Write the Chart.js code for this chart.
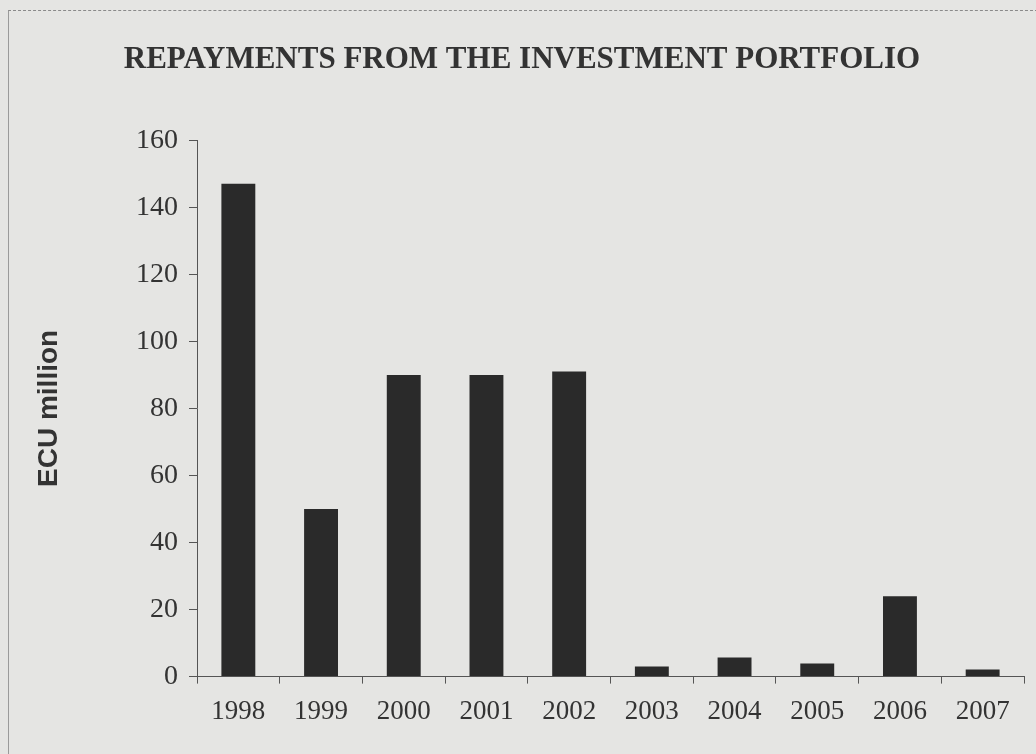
<!DOCTYPE html>
<html>
<head>
<meta charset="utf-8">
<script src="https://cdn.jsdelivr.net/npm/chart.js@4"></script>
<style>
  html, body { margin: 0; padding: 0; background: #e5e5e3; }
  #wrap { position: relative; width: 1036px; height: 754px; }
  #frame {
    position: absolute; left: 8px; top: 10px; right: -2px; bottom: -2px;
    border-top: 1px dashed #8a8a8a; border-left: 1px solid #9a9a9a;
    pointer-events: none;
  }
</style>
</head>
<body>
<div id="wrap">
  <canvas id="repaymentsChart" width="1036" height="754"></canvas>
  <div id="frame"></div>
</div>
<script>
const years = ['1998', '1999', '2000', '2001', '2002', '2003', '2004', '2005', '2006', '2007'];
const repayments = [147, 50, 90, 90, 91, 3, 5.7, 3.9, 24, 2.1];
const yTicks = [0, 20, 40, 60, 80, 100, 120, 140, 160];

const serif = "'Liberation Serif', 'Times New Roman', serif";
const textColor = '#333333';
const lineColor = '#555555';

const canvas = document.getElementById('repaymentsChart');

new Chart(canvas, {
  type: 'bar',
  data: {
    labels: years,
    datasets: [
      {
        label: 'ECU million',
        data: repayments,
        backgroundColor: '#2a2a2a',
        barPercentage: 0.41,
        categoryPercentage: 1,
      },
    ],
  },
  options: {
    responsive: false,
    animation: false,
    layout: { padding: { left: 20, right: 12, top: 0, bottom: 14 } },
    plugins: {
      legend: { display: false },
      tooltip: { enabled: false },
      title: {
        display: true,
        text: 'REPAYMENTS FROM THE INVESTMENT PORTFOLIO',
        color: textColor,
        font: { family: serif, size: 31, weight: 'bold' },
        padding: { top: 41, bottom: 62 },
      },
    },
    scales: {
      x: {
        grid: {
          drawOnChartArea: false,
          drawTicks: true,
          tickLength: 7,
          color: lineColor,
        },
        border: { display: true, color: lineColor, width: 1 },
        ticks: {
          color: textColor,
          font: { family: serif, size: 27 },
          padding: 12,
          maxRotation: 0,
        },
      },
      y: {
        min: 0,
        max: 160,
        afterBuildTicks: (scale) => {
          scale.ticks = yTicks.map((v) => ({ value: v }));
        },
        afterFit: (scale) => {
          scale.width = 177;
        },
        grid: {
          drawOnChartArea: false,
          drawTicks: true,
          tickLength: 8,
          color: lineColor,
        },
        border: { display: true, color: lineColor, width: 1 },
        ticks: {
          color: textColor,
          font: { family: serif, size: 28 },
          padding: 11,
        },
        title: {
          display: true,
          text: 'ECU million',
          color: textColor,
          font: { family: "'Liberation Sans', Arial, sans-serif", size: 28, weight: 'bold' },
          padding: { top: 12, bottom: 0 },
        },
      },
    },
  },
});
</script>
</body>
</html>
